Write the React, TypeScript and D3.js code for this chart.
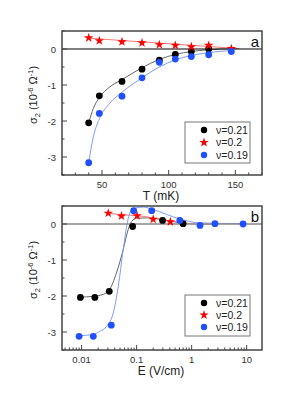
import React from "react";
import * as d3 from "d3";

// ---------- Panel a data (T in mK) ----------
const T_BLACK = [40, 48, 65, 80, 93, 105, 117, 130];
const A_BLACK = [-2.05, -1.3, -0.9, -0.56, -0.31, -0.15, -0.07, 0.0];
const T_RED = [40, 48, 65, 80, 93, 105, 117, 130, 147];
const A_RED = [0.31, 0.23, 0.2, 0.17, 0.12, 0.1, 0.06, 0.1, 0.01];
const T_BLUE = [40, 48, 65, 80, 93, 105, 117, 130, 147];
const A_BLUE = [-3.16, -1.79, -1.31, -0.8, -0.37, -0.28, -0.21, -0.16, -0.07];

// fit curves panel a
const A_FIT_BLACK_T = [40, 43.5, 48, 56, 65, 80, 93, 105, 117, 130, 151];
const A_FIT_BLACK_V = [-2.05, -1.65, -1.35, -1.05, -0.85, -0.52, -0.29, -0.15, -0.07, -0.02, 0.01];
const A_FIT_BLUE_T = [40, 43.5, 48, 56, 65, 80, 93, 105, 117, 130, 148];
const A_FIT_BLUE_V = [-3.16, -2.44, -1.94, -1.5, -1.2, -0.8, -0.5, -0.3, -0.18, -0.1, -0.04];
const A_FIT_RED_T = [40, 153];
const A_FIT_RED_V = [0.3, 0.01];

// ---------- Panel b data (E in V/cm) ----------
const E_BLACK = [0.0095, 0.0174, 0.0318, 0.0847, 0.296, 0.7];
const B_BLACK = [-2.04, -2.04, -1.87, -0.07, 0.1, 0.01];
const E_RED = [0.0305, 0.053, 0.102, 0.2, 0.41];
const B_RED = [0.3, 0.22, 0.23, 0.13, 0.06];
const E_BLUE = [0.009, 0.0163, 0.0346, 0.0883, 0.188, 0.61, 1.42, 2.65, 8.6];
const B_BLUE = [-3.12, -3.12, -2.81, 0.37, 0.37, 0.1, -0.04, 0.01, 0.0];

const B_FIT_BLACK_E = [0.0093, 0.016, 0.025, 0.032, 0.043, 0.057, 0.07, 0.081, 0.1, 0.15, 0.3, 0.7];
const B_FIT_BLACK_V = [-2.03, -2.01, -1.95, -1.83, -1.36, -0.71, -0.16, 0.07, 0.16, 0.17, 0.12, 0.01];
const B_FIT_BLUE_E = [0.0093, 0.0163, 0.0215, 0.0285, 0.0376, 0.0464, 0.057, 0.0657, 0.0755, 0.093, 0.132, 0.2, 0.61, 1.41, 8.7];
const B_FIT_BLUE_V = [-3.1, -3.07, -2.98, -2.84, -2.47, -1.73, -0.71, -0.07, 0.31, 0.44, 0.47, 0.4, 0.14, 0.03, 0.01];
const B_FIT_RED_E = [0.0305, 0.05, 0.107, 0.2, 0.7, 1.6, 2.7];
const B_FIT_RED_V = [0.3, 0.26, 0.23, 0.17, 0.03, -0.01, 0.0];

const LEGEND = ["\u03bd=0.21", "\u03bd=0.2", "\u03bd=0.19"];
const Y_TICKS = [0, -1, -2, -3];
const A_X_TICKS = [50, 100, 150];
const B_X_TICKS = [0.01, 0.1, 1, 10];
const B_X_LABELS = ["0.01", "0.1", "1", "10"];

const BLACK = "#000000";
const RED = "#ff0000";
const BLUE = "#1f4fff";
const FONT = "Liberation Sans, Arial, sans-serif";

const X0 = 62;
const X1 = 262;

type Series = { xs: number[]; ys: number[]; color: string; kind: "dot" | "star" };
type Fit = { xs: number[]; ys: number[]; color: string };

function Panel(props: {
  top: number;
  log: boolean;
  domain: [number, number];
  series: Series[];
  fits: Fit[];
  letter: string;
  xTicks: number[];
  xLabels: string[];
  xTitle: string;
  zeroColor: string;
  zeroWidth: number;
  legendTop: number;
  legendH: number;
  rowGap: number;
}) {
  const { top, log, domain } = props;
  const bottom = top + 144;
  const x: any = log
    ? d3.scaleLog().domain(domain).range([X0, X1])
    : d3.scaleLinear().domain(domain).range([X0, X1]);
  const y = d3.scaleLinear().domain([-3.5, 0.5]).range([bottom, top]);

  const line = d3
    .line<[number, number]>()
    .x((d) => x(d[0]))
    .y((d) => y(d[1]))
    .curve(d3.curveMonotoneX);

  const minorX: number[] = [];
  const majorX: number[] = [];
  if (log) {
    for (let e = -3; e <= 1; e++) {
      for (let m = 1; m <= 9; m++) {
        const v = m * Math.pow(10, e);
        if (v >= domain[0] && v <= domain[1]) (m === 1 ? majorX : minorX).push(v);
      }
    }
  } else {
    for (let v = 20; v <= 170; v += 10) {
      (v % 50 === 0 ? majorX : minorX).push(v);
    }
  }
  const yMinor = d3.range(-3.5, 0.51, 0.5).filter((v) => Math.abs(v % 1) > 0.01);

  const star = d3.symbol().type(d3.symbolStar).size(28)();
  const axisColor = "#444";

  return (
    <g>
      {props.fits.map((f, i) => (
        <path
          key={"f" + i}
          d={line(f.xs.map((v, j) => [v, f.ys[j]] as [number, number])) || ""}
          fill="none"
          stroke={f.color}
          strokeWidth={1}
        />
      ))}
      <line x1={X0} x2={X1} y1={y(0)} y2={y(0)} stroke={props.zeroColor} strokeWidth={props.zeroWidth} />
      {props.series.map((s, i) =>
        s.xs.map((v, j) =>
          s.kind === "dot" ? (
            <circle key={`p${i}-${j}`} cx={x(v)} cy={y(s.ys[j])} r={3.4} fill={s.color} />
          ) : (
            <path key={`p${i}-${j}`} d={star || ""} transform={`translate(${x(v)},${y(s.ys[j])})`} fill={s.color} />
          )
        )
      )}
      <rect x={X0} y={top} width={X1 - X0} height={bottom - top} fill="none" stroke={axisColor} strokeWidth={1.5} />
      {majorX.map((v) => (
        <line key={"mx" + v} x1={x(v)} x2={x(v)} y1={bottom} y2={bottom - 5} stroke={axisColor} strokeWidth={1} />
      ))}
      {minorX.map((v) => (
        <line key={"nx" + v} x1={x(v)} x2={x(v)} y1={bottom} y2={bottom - 2.5} stroke={axisColor} strokeWidth={1} />
      ))}
      {props.xTicks.map((v, i) => (
        <text key={"xl" + v} x={x(v)} y={bottom + 13} textAnchor="middle" fontSize={9.5} fill="#333" fontFamily={FONT}>
          {props.xLabels[i]}
        </text>
      ))}
      {Y_TICKS.map((v) => (
        <g key={"yt" + v}>
          <line x1={X0} x2={X0 + 5} y1={y(v)} y2={y(v)} stroke={axisColor} strokeWidth={1} />
          <text x={X0 - 6} y={y(v) + 3.5} textAnchor="end" fontSize={9.5} fill="#333" fontFamily={FONT}>
            {v === 0 ? "0" : "-" + Math.abs(v)}
          </text>
        </g>
      ))}
      {yMinor.map((v) => (
        <line key={"ym" + v} x1={X0} x2={X0 + 2.5} y1={y(v)} y2={y(v)} stroke={axisColor} strokeWidth={1} />
      ))}
      <text x={161} y={bottom + 25} textAnchor="middle" fontSize={12} fill="#222" fontFamily={FONT}>
        {props.xTitle}
      </text>
      <text
        transform={`translate(37,${top + 64}) rotate(-90)`}
        textAnchor="middle"
        fontSize={11}
        fill="#222"
        fontFamily={FONT}
      >
        <tspan>σ</tspan>
        <tspan fontSize={7.5} dy={3}>2</tspan>
        <tspan dy={-3}> (10</tspan>
        <tspan fontSize={7.5} dy={-4}>-6</tspan>
        <tspan dy={4}> Ω</tspan>
        <tspan fontSize={7.5} dy={-4}>-1</tspan>
        <tspan dy={4}>)</tspan>
      </text>
      <text x={255} y={top + 16} textAnchor="middle" fontSize={15} fill="#111" fontFamily={FONT}>
        {props.letter}
      </text>
      <rect x={185} y={props.legendTop} width={65} height={props.legendH} fill="#fff" stroke="#777" strokeWidth={1} />
      {LEGEND.map((lab, i) => {
        const cy = props.legendTop + 8 + i * props.rowGap;
        const s = props.series[i];
        return (
          <g key={"lg" + i}>
            {s.kind === "dot" ? (
              <circle cx={204} cy={cy} r={3.2} fill={s.color} />
            ) : (
              <path d={star || ""} transform={`translate(204,${cy})`} fill={s.color} />
            )}
            <text x={216} y={cy + 3.8} fontSize={10.5} fill="#222" fontFamily={FONT}>
              {lab}
            </text>
          </g>
        );
      })}
    </g>
  );
}

export default function App() {
  return (
    <svg width={291} height={411} style={{ position: "absolute", left: 0, top: 0, background: "#fff" }}>
      <rect x={0} y={0} width={291} height={411} fill="#fff" />
      <Panel
        top={31}
        log={false}
        domain={[20, 170]}
        series={[
          { xs: T_BLACK, ys: A_BLACK, color: BLACK, kind: "dot" },
          { xs: T_RED, ys: A_RED, color: RED, kind: "star" },
          { xs: T_BLUE, ys: A_BLUE, color: BLUE, kind: "dot" },
        ]}
        fits={[
          { xs: A_FIT_BLACK_T, ys: A_FIT_BLACK_V, color: "#666" },
          { xs: A_FIT_RED_T, ys: A_FIT_RED_V, color: "#ff7777" },
          { xs: A_FIT_BLUE_T, ys: A_FIT_BLUE_V, color: "#7d9cff" },
        ]}
        letter="a"
        xTicks={A_X_TICKS}
        xLabels={A_X_TICKS.map(String)}
        xTitle="T (mK)"
        zeroColor="#000"
        zeroWidth={1}
        legendTop={122}
        legendH={41}
        rowGap={12.5}
      />
      <Panel
        top={206}
        log={true}
        domain={[0.0044, 19]}
        series={[
          { xs: E_BLACK, ys: B_BLACK, color: BLACK, kind: "dot" },
          { xs: E_RED, ys: B_RED, color: RED, kind: "star" },
          { xs: E_BLUE, ys: B_BLUE, color: BLUE, kind: "dot" },
        ]}
        fits={[
          { xs: B_FIT_BLACK_E, ys: B_FIT_BLACK_V, color: "#666" },
          { xs: B_FIT_RED_E, ys: B_FIT_RED_V, color: "#ff7777" },
          { xs: B_FIT_BLUE_E, ys: B_FIT_BLUE_V, color: "#7d9cff" },
        ]}
        letter="b"
        xTicks={B_X_TICKS}
        xLabels={B_X_LABELS}
        xTitle="E (V/cm)"
        zeroColor="#888"
        zeroWidth={1.5}
        legendTop={295}
        legendH={41}
        rowGap={12}
      />
    </svg>
  );
}
